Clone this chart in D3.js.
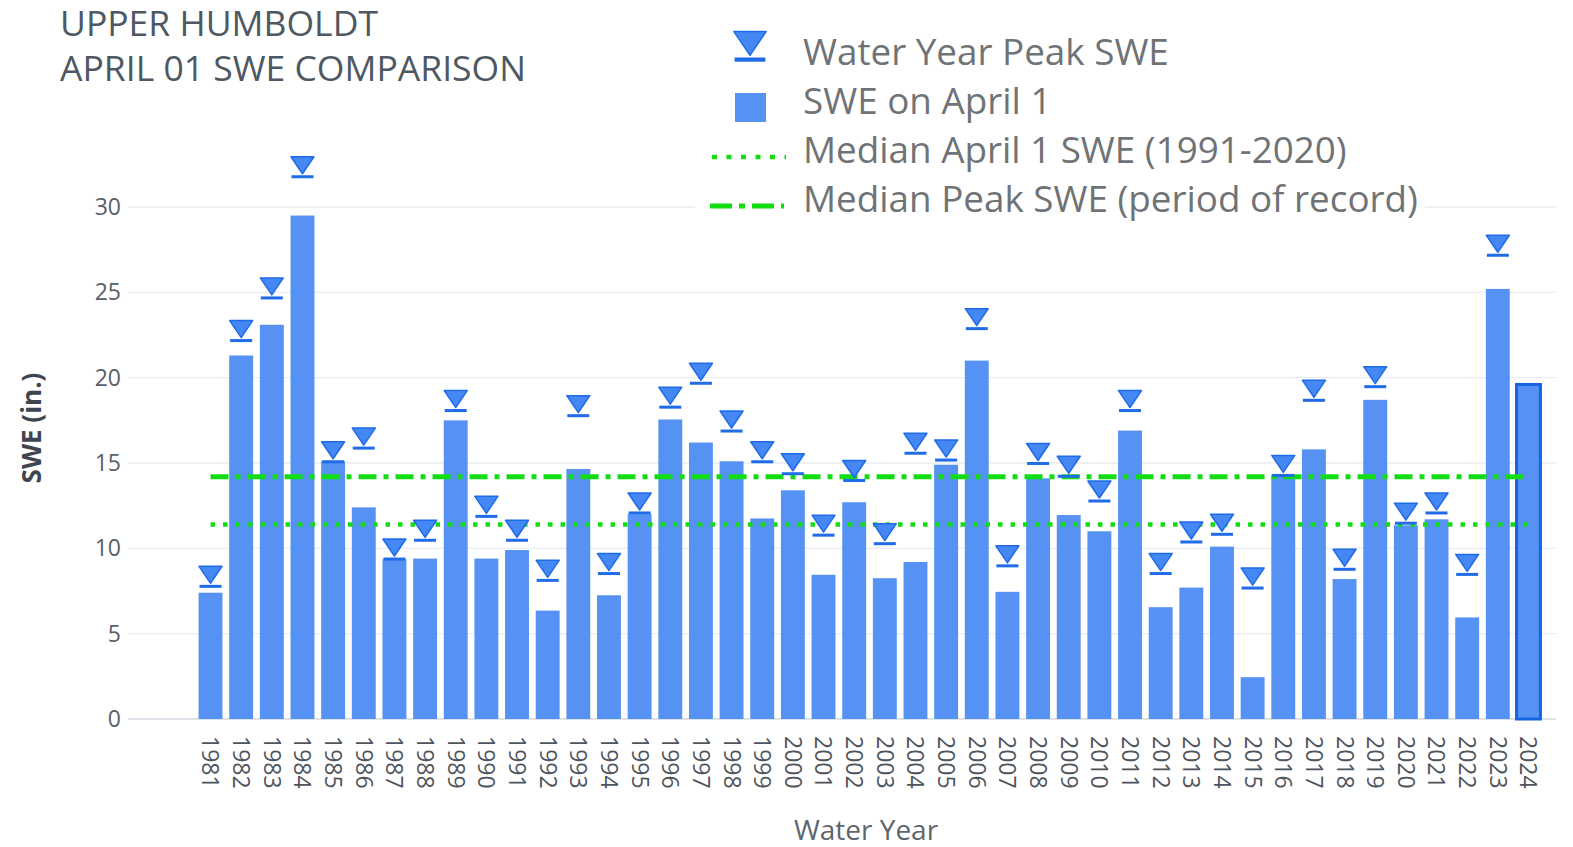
<!DOCTYPE html>
<html>
<head>
<meta charset="utf-8">
<script src="https://cdn.jsdelivr.net/npm/d3@7"></script>
<style>
  html, body { margin: 0; padding: 0; background: #fff; }
  svg { display: block; font-family: "Open Sans", "Noto Sans", sans-serif; }
</style>
</head>
<body>
<svg id="chart" width="1573" height="847"></svg>
<script>
// ---------- data ----------
const years = ["1981","1982","1983","1984","1985","1986","1987","1988","1989","1990",
  "1991","1992","1993","1994","1995","1996","1997","1998","1999","2000",
  "2001","2002","2003","2004","2005","2006","2007","2008","2009","2010",
  "2011","2012","2013","2014","2015","2016","2017","2018","2019","2020",
  "2021","2022","2023","2024"];
const aprilSWE = [7.4, 21.3, 23.1, 29.5, 15.1, 12.4, 9.35, 9.4, 17.5, 9.4,
  9.9, 6.35, 14.65, 7.25, 12.0, 17.55, 16.2, 15.1, 11.75, 13.4,
  8.45, 12.7, 8.25, 9.2, 14.9, 21.0, 7.45, 14.1, 11.95, 11.0,
  16.9, 6.55, 7.7, 10.1, 2.45, 14.25, 15.8, 8.2, 18.7, 11.35,
  11.7, 5.95, 25.2, 19.6];
const peakSWE = [8.3, 22.7, 25.2, 32.3, 15.6, 16.4, 9.9, 11.0, 18.6, 12.4,
  11.0, 8.65, 18.3, 9.05, 12.6, 18.8, 20.2, 17.4, 15.6, 14.9,
  11.3, 14.5, 10.8, 16.1, 15.7, 23.4, 9.5, 15.5, 14.75, 13.3,
  18.6, 9.05, 10.9, 11.35, 8.2, 14.8, 19.2, 9.3, 20.0, 12.0,
  12.6, 9.0, 27.7, null];
const medianApril1 = 11.4;
const medianPeak = 14.2;
const yTicks = [0, 5, 10, 15, 20, 25, 30];
const titleLines = ["UPPER HUMBOLDT", "APRIL 01 SWE COMPARISON"];
const legendLabels = ["Water Year Peak SWE", "SWE on April 1",
  "Median April 1 SWE (1991-2020)", "Median Peak SWE (period of record)"];

// ---------- styles ----------
const barColor = "#5692f4";
const markerFill = "#4587f3";
const markerStroke = "#1f6be8";
const highlightStroke = "#1565e2";
const green = "#12dc12";
const gridColor = "#e9ecf1";
const dotDash = "4.5,8";
const dashDot = "18,7,5,7";

const svg = d3.select("#chart");

const x = d3.scaleBand().domain(years).range([195.2, 1543.8])
  .paddingInner(0.22).paddingOuter(0.11);
const y = d3.scaleLinear().domain([0, 30]).range([719, 207]);
const gridX0 = 128, gridX1 = 1556;

// gridlines
svg.append("g").selectAll("line").data(yTicks).join("line")
  .attr("x1", gridX0).attr("x2", gridX1)
  .attr("y1", d => y(d)).attr("y2", d => y(d))
  .attr("stroke", d => d === 0 ? "#dde1e8" : gridColor)
  .attr("stroke-width", d => d === 0 ? 2 : 1.3);

// y axis labels
const yAxis = d3.axisLeft(y).tickValues(yTicks).tickSize(0).tickPadding(0);
const yg = svg.append("g").attr("transform", `translate(121,0)`).call(yAxis);
yg.select(".domain").remove();
yg.selectAll("text").attr("fill", "#5a6068").style("font-size", "23px")
  .style("font-family", "'Open Sans', sans-serif");

// y title
svg.append("text").attr("transform", "translate(31,428) rotate(-90)")
  .attr("text-anchor", "middle").attr("dominant-baseline", "central")
  .attr("fill", "#3c4550").style("font-size", "26px").style("font-weight", "700")
  .text("SWE (in.)");

// bars
const barData = years.map((yr, i) => ({ yr, v: aprilSWE[i], p: peakSWE[i], last: i === years.length - 1 }));
svg.append("g").selectAll("rect").data(barData).join("rect")
  .attr("x", d => x(d.yr)).attr("width", x.bandwidth())
  .attr("y", d => y(d.v)).attr("height", d => y(0) - y(d.v))
  .attr("fill", barColor)
  .attr("stroke", d => d.last ? highlightStroke : "none")
  .attr("stroke-width", d => d.last ? 3 : 0);

// median lines
const lx0 = x(years[0]) + x.bandwidth() / 2;
const lx1 = x(years[years.length - 1]) + x.bandwidth() / 2;
svg.append("line").attr("x1", lx0).attr("x2", lx1)
  .attr("y1", y(medianApril1)).attr("y2", y(medianApril1))
  .attr("stroke", green).attr("stroke-width", 4.5).attr("stroke-dasharray", dotDash);
svg.append("line").attr("x1", lx0).attr("x2", lx1)
  .attr("y1", y(medianPeak)).attr("y2", y(medianPeak))
  .attr("stroke", green).attr("stroke-width", 5).attr("stroke-dasharray", dashDot);

// peak marker symbol
function drawPeakMarker(g, s) {
  g.append("path")
    .attr("d", `M${-11.5*s},${-11*s} L${11.5*s},${-11*s} L0,${6*s} Z`)
    .attr("fill", markerFill).attr("stroke", markerStroke).attr("stroke-width", 1.5)
    .attr("stroke-linejoin", "round");
  g.append("rect").attr("x", -11*s).attr("y", 7.5*s).attr("width", 22*s).attr("height", 3*s)
    .attr("fill", markerStroke);
}
svg.append("g").selectAll("g").data(barData.filter(d => d.p !== null)).join("g")
  .attr("transform", d => `translate(${x(d.yr) + x.bandwidth() / 2},${y(d.p)})`)
  .each(function () { drawPeakMarker(d3.select(this), 1); });

// x axis labels
const xAxis = d3.axisBottom(x).tickSize(0).tickPadding(0);
const xg = svg.append("g").attr("transform", `translate(0,${y(0)})`).call(xAxis);
xg.select(".domain").remove();
xg.selectAll("text")
  .attr("transform", "rotate(90)")
  .attr("x", 17).attr("y", 0).attr("dy", "0.35em")
  .style("text-anchor", "start")
  .attr("fill", "#4f555d").style("font-size", "23px")
  .style("font-family", "'Open Sans', sans-serif");

// x title
svg.append("text").attr("x", 866).attr("y", 829)
  .attr("text-anchor", "middle").attr("dominant-baseline", "central")
  .attr("fill", "#5f656c").style("font-size", "28px").text("Water Year");

// helper to fit text width
function fitSize(str, target, weight) {
  const t = svg.append("text").style("font-size", "100px").style("font-weight", weight || "400").text(str);
  const w = t.node().getComputedTextLength();
  t.remove();
  return 100 * target / w;
}

// title
const tSize = fitSize(titleLines[1], 466);
svg.append("g").selectAll("text").data(titleLines).join("text")
  .attr("x", 60).attr("y", (d, i) => 36 + i * 45)
  .attr("fill", "#4e5863").style("font-size", tSize + "px").text(d => d);

// legend
const lg = svg.append("g");
lg.append("rect").attr("x", 695).attr("y", 24).attr("width", 730).attr("height", 196).attr("fill", "#fff");
const lSize = fitSize(legendLabels[3], 615);
const rowY = [51, 100, 149, 198];
lg.selectAll("text.lab").data(legendLabels).join("text")
  .attr("class", "lab")
  .attr("x", 803).attr("y", (d, i) => rowY[i]).attr("dominant-baseline", "central")
  .attr("fill", "#707376").style("font-size", lSize + "px").text(d => d);
drawPeakMarker(lg.append("g").attr("transform", `translate(750,${rowY[0] - 4})`), 1.4);
lg.append("rect").attr("x", 735).attr("y", 93).attr("width", 31).attr("height", 29).attr("fill", barColor);
lg.append("line").attr("x1", 712).attr("x2", 786).attr("y1", rowY[2] + 8).attr("y2", rowY[2] + 8)
  .attr("stroke", green).attr("stroke-width", 4.5).attr("stroke-dasharray", "5,9.5");
lg.append("line").attr("x1", 710).attr("x2", 784).attr("y1", rowY[3] + 8).attr("y2", rowY[3] + 8)
  .attr("stroke", green).attr("stroke-width", 5).attr("stroke-dasharray", "22,7,6,7");
</script>
</body>
</html>
